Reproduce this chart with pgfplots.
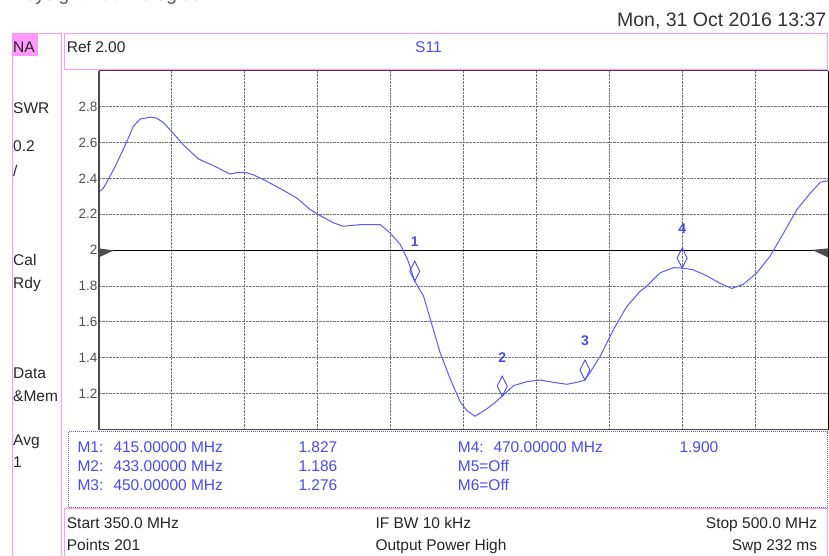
\documentclass[border=0pt]{standalone}
\usepackage{fontspec}
\setmainfont{Liberation Sans}
\usepackage{pgfplots}
\pgfplotsset{compat=1.18}
\definecolor{pinkb}{HTML}{FF99FF}
\definecolor{topframe}{HTML}{603050}
\definecolor{mboxcol}{HTML}{7755CC}
\definecolor{tracecol}{HTML}{5A5AFF}
\definecolor{mtext}{HTML}{4A4AF0}
\definecolor{ticktext}{HTML}{505050}
\begin{document}
\begin{tikzpicture}[x=1pt,y=-1pt,
  ptxt/.style={anchor=base west, inner sep=0pt, text=black!85, font=\fontsize{15.5}{18}\selectfont},
  mtxt/.style={anchor=base west, inner sep=0pt, text=mtext, font=\fontsize{15.5}{18}\selectfont}]
\path[use as bounding box] (0,0) rectangle (829,556);
% header
\node[anchor=base west, inner sep=0pt, text=black!65, font=\fontsize{19}{22}\selectfont] at (12,0.5) {Keysight Technologies};
\node[anchor=base east, inner sep=0pt, text=black!80, font=\fontsize{19.5}{22}\selectfont] at (826.5,26.5) {Mon, 31 Oct 2016 13:37};
% left panel
\draw[pinkb, line width=1pt] (12,562) -- (12,34) -- (61.7,34) -- (61.7,562);
\fill[pinkb] (12,34) rectangle (37.7,56);
\node[ptxt] at (13,52.3) {NA};
\node[ptxt] at (13,113.3) {SWR};
\node[ptxt] at (13,151.7) {0.2};
\node[ptxt] at (13,176.7) {/};
\node[ptxt] at (13,265.7) {Cal};
\node[ptxt] at (13,288.3) {Rdy};
\node[ptxt] at (13,378.3) {Data};
\node[ptxt] at (13,401.7) {\&Mem};
\node[ptxt] at (13,445) {Avg};
\node[ptxt] at (13,467.7) {1};
% title box
\draw[pinkb, line width=1pt] (64,34) rectangle (827,69.3);
\node[ptxt] at (66.7,52.3) {Ref 2.00};
\node[mtxt] at (415,52.3) {S11};
% marker box
\draw[mboxcol, densely dotted, line width=1pt] (68.3,431.7) rectangle (827.5,507.3);
\node[mtxt] at (77.3,452) {M1:};
\node[mtxt] at (113.3,452) {415.00000 MHz};
\node[mtxt] at (298.3,452) {1.827};
\node[mtxt] at (77.3,471.4) {M2:};
\node[mtxt] at (113.3,471.4) {433.00000 MHz};
\node[mtxt] at (298.3,471.4) {1.186};
\node[mtxt] at (77.3,490.7) {M3:};
\node[mtxt] at (113.3,490.7) {450.00000 MHz};
\node[mtxt] at (298.3,490.7) {1.276};
\node[mtxt] at (457.7,452) {M4:};
\node[mtxt] at (493.3,452) {470.00000 MHz};
\node[mtxt] at (679.3,452) {1.900};
\node[mtxt] at (457.7,471.4) {M5=Off};
\node[mtxt] at (457.7,490.7) {M6=Off};
% bottom box
\draw[pinkb, line width=1pt] (64,562) -- (64,508.3) -- (827,508.3) -- (827,562);
\node[ptxt] at (66.7,528.3) {Start 350.0 MHz};
\node[ptxt] at (66.7,550) {Points 201};
\node[ptxt] at (375.3,528.3) {IF BW 10 kHz};
\node[ptxt] at (375.3,550) {Output Power High};
\node[ptxt, anchor=base east] at (817.3,528.3) {Stop 500.0 MHz};
\node[ptxt, anchor=base east] at (817.3,550) {Swp 232 ms};
% plot
\begin{axis}[at={(98.7pt,-429.5pt)}, anchor=south west, scale only axis,
  width=729.3pt, height=358.8pt,
  xmin=350, xmax=500, ymin=1, ymax=3,
  xtick={365,380,395,410,425,440,455,470,485}, xticklabels={},
  ytick={1.2,1.4,1.6,1.8,2,2.2,2.4,2.6,2.8},
  yticklabels={1.2,1.4,1.6,1.8,2,2.2,2.4,2.6,2.8},
  grid=major, major grid style={densely dotted, black!55, line width=0.8pt},
  major tick length=0pt, axis line style={draw=none},
  /pgf/number format/assume math mode=true,
  yticklabel style={font=\fontsize{13.5}{16}\selectfont, text=ticktext, inner sep=1pt},
  clip=false]
\addplot[black, line width=1.1pt] coordinates {(350,2) (500,2)};
\addplot[tracecol, line width=1pt, mark=none] coordinates {
(350.0,2.322) (351.0,2.347) (352.3,2.410) (353.4,2.467) (354.5,2.530) (355.8,2.606)
(357.1,2.689) (358.5,2.730) (360.6,2.741) (361.9,2.736) (363.3,2.711) (365.0,2.661)
(367.4,2.587) (370.5,2.508) (373.6,2.471) (377.0,2.424) (378.5,2.432) (380.1,2.433)
(381.8,2.420) (384.6,2.383) (388.0,2.333) (390.7,2.291) (393.5,2.226) (395.5,2.193)
(398.3,2.152) (400.3,2.133) (403.8,2.142) (407.9,2.142) (409.9,2.097) (412.0,2.032)
(413.5,1.950) (415.0,1.827) (416.8,1.744) (418.2,1.615) (420.2,1.430) (422.3,1.282)
(424.4,1.152) (425.7,1.106) (427.4,1.074) (429.8,1.115) (431.5,1.150) (433.0,1.186)
(435.3,1.244) (438.1,1.267) (440.8,1.276) (443.5,1.263) (446.3,1.252) (449.0,1.267)
(450.0,1.276) (451.1,1.319) (453.2,1.411) (455.9,1.559) (458.6,1.685) (461.4,1.772)
(462.4,1.791) (465.5,1.874) (468.2,1.902) (470.0,1.900) (472.3,1.890) (475.1,1.856)
(477.8,1.815) (480.2,1.786) (482.6,1.810) (485.4,1.874) (488.1,1.967) (490.9,2.097)
(493.6,2.226) (496.4,2.319) (498.4,2.378) (500.0,2.387)};
\addplot[only marks, mark=diamond, mark size=10pt, color=mtext,
  mark options={xscale=0.667, yshift=10pt, line width=0.9pt, fill=none},
  nodes near coords, point meta=explicit symbolic,
  nodes near coords style={anchor=center, yshift=29pt, inner sep=0pt, text=mtext, font=\fontsize{14}{16}\selectfont\bfseries}]
  table[row sep=\\, meta=l] {x y l\\ 415 1.827 1\\ 433 1.186 2\\ 450 1.276 3\\ 470 1.900 4\\};
% frame
\draw[black!70, line width=1.6pt] (rel axis cs:0,1) -- (rel axis cs:0,0) -- (rel axis cs:1,0);
\draw[black, line width=0.8pt] (rel axis cs:1,0) -- (rel axis cs:1,1);
\draw[topframe, line width=1.4pt] (rel axis cs:0,1) -- (rel axis cs:1,1);
% reference triangles
\fill[black!70] (axis cs:350,2) ++(0pt,1.7pt) -- ++(15pt,-2pt) -- ++(-15pt,-7pt) -- cycle;
\fill[black!70] (axis cs:500,2) ++(-16pt,0.2pt) -- ++(16pt,1.5pt) -- ++(0pt,-9pt) -- cycle;
\end{axis}
\end{tikzpicture}
\end{document}
